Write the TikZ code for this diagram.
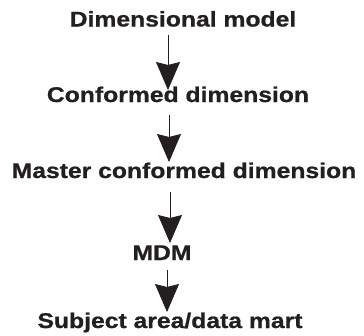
\documentclass[tikz,border=0pt]{standalone}
\usepackage{fontspec}
\usetikzlibrary{arrows.meta}
\newfontfamily\labelfont[FakeStretch=1.16,BoldFeatures={FakeBold=0.8}]{Liberation Sans}
\definecolor{ink}{HTML}{231F20}
\begin{document}
\begin{tikzpicture}[x=1pt,y=1pt,
  stage/.style={anchor=base,inner sep=0pt,text=ink,
    font=\labelfont\bfseries\fontsize{21.3}{25}\selectfont},
  flow/.style={draw=ink,line width=0.8pt,
    -{Stealth[length=28pt,width=24pt,inset=3pt]}}]
\useasboundingbox (0,0) rectangle (364,-335);
\node[stage] (dm)  at (183,-26.5) {Dimensional model};
\node[stage] (cd)  at (178,-102)  {Conformed dimension};
\node[stage] (mcd) at (184,-178)  {Master conformed dimension};
\node[stage] (mdm) at (162,-260)  {MDM};
\node[stage] (sub) at (170,-328)  {Subject area/data mart};
\draw[flow] ([shift={(-15,-8.5)}]dm.base) -- ([shift={(-10,12)}]cd.base);
\draw[flow] ([shift={(-9,-13)}]cd.base) -- ([shift={(-15,16)}]mcd.base);
\draw[flow] ([shift={(-14,-14)}]mcd.base) -- ([shift={(8,17)}]mdm.base);
\draw[flow] ([shift={(5,-10)}]mdm.base) -- ([shift={(-3,16)}]sub.base);
\end{tikzpicture}
\end{document}
